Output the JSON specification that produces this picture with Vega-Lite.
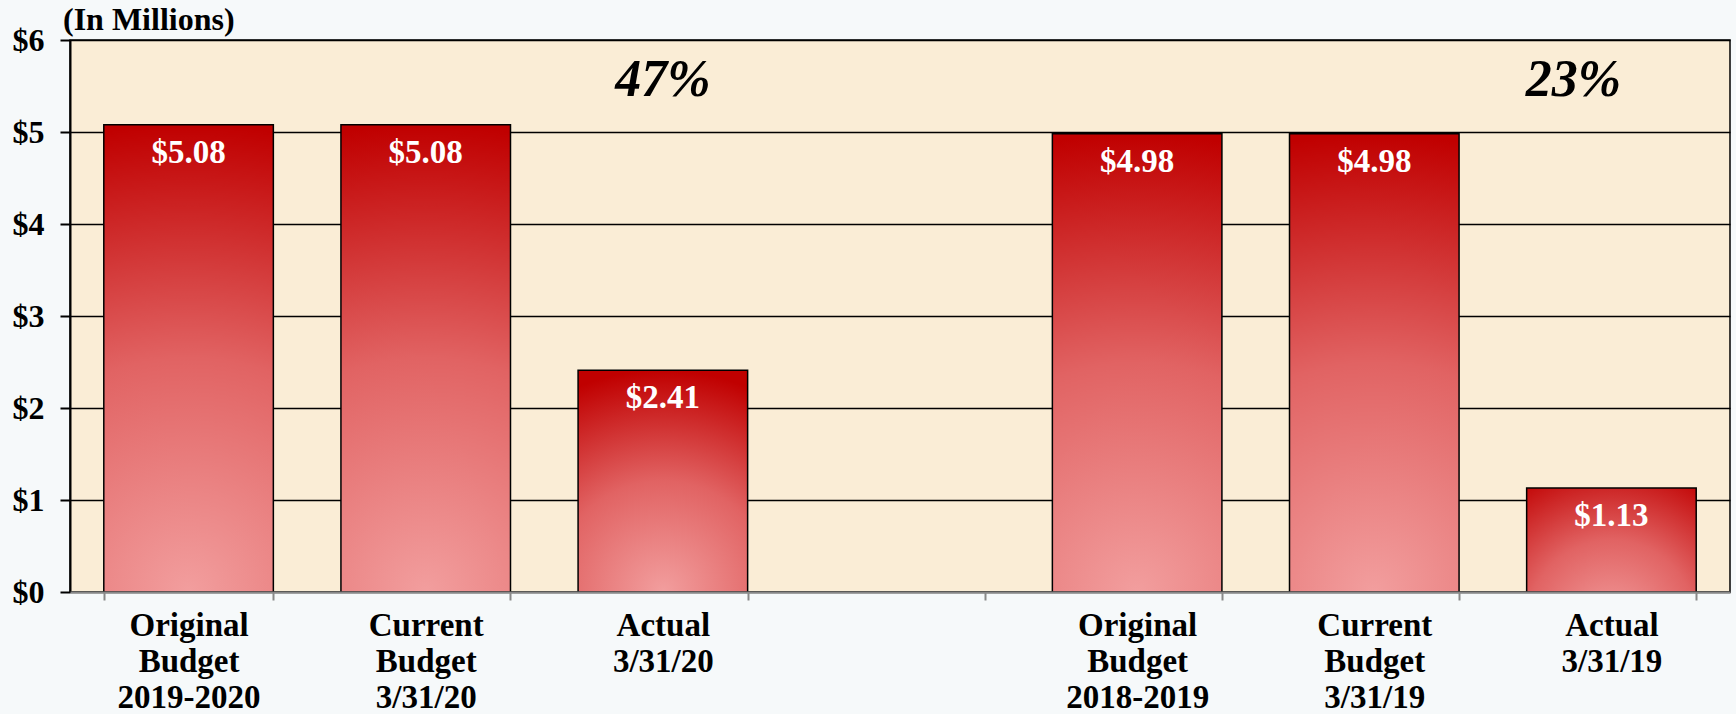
{
  "$schema": "https://vega.github.io/schema/vega-lite/v6.json",
  "width": 1660,
  "height": 552,
  "autosize": {"type": "none"},
  "padding": {"left": 70, "top": 40, "right": 6, "bottom": 122},
  "background": "#F6F9FA",
  "title": {
    "text": "(In Millions)",
    "anchor": "start",
    "frame": "group",
    "font": "Liberation Serif",
    "fontSize": 32,
    "fontWeight": "bold",
    "color": "#000000",
    "baseline": "alphabetic",
    "offset": 0,
    "dx": -7,
    "dy": 38
  },
  "config": {
    "view": {"fill": "#FAEDD6", "stroke": "#000000", "strokeWidth": 1.5},
    "font": "Liberation Serif"
  },
  "datasets": {
    "bars": [
      {"cat": "Original|Budget|2019-2020", "value": 5.08, "label": "$5.08"},
      {"cat": "Current|Budget|3/31/20", "value": 5.08, "label": "$5.08"},
      {"cat": "Actual|3/31/20", "value": 2.41, "label": "$2.41"},
      {"cat": "Original|Budget|2018-2019", "value": 4.98, "label": "$4.98"},
      {"cat": "Current|Budget|3/31/19", "value": 4.98, "label": "$4.98"},
      {"cat": "Actual|3/31/19", "value": 1.13, "label": "$1.13"}
    ],
    "pct1": [{"cat": "Actual|3/31/20", "y": 5.57, "text": "47%"}],
    "pct2": [{"cat": "Actual|3/31/19", "y": 5.57, "text": "23%"}]
  },
  "encoding": {
    "x": {
      "field": "cat",
      "type": "nominal",
      "sort": null,
      "scale": {
        "domain": ["Original|Budget|2019-2020", "Current|Budget|3/31/20", "Actual|3/31/20", " ", "Original|Budget|2018-2019", "Current|Budget|3/31/19", "Actual|3/31/19"],
        "paddingInner": 0.285,
        "paddingOuter": 0.1425
      },
      "axis": {
        "title": null,
        "labelAngle": 0,
        "labelExpr": "datum.value ? split(datum.value, '|') : ''",
        "labelFont": "Liberation Serif",
        "labelFontSize": 33,
        "labelFontWeight": "bold",
        "labelColor": "#000000",
        "labelLineHeight": 36,
        "labelPadding": 9,
        "labelBaseline": "top",
        "tickBand": "extent",
        "tickSize": 8,
        "tickColor": "#888888",
        "tickWidth": 2,
        "domainColor": "#888888",
        "domainWidth": 2,
        "grid": false,
        "zindex": 1
      }
    }
  },
  "layer": [
    {
      "data": {"name": "bars"},
      "mark": {
        "type": "bar",
        "stroke": "#000000",
        "strokeWidth": 1.5,
        "color": {
          "gradient": "radial",
          "x1": 0.5, "y1": 1, "r1": 0,
          "x2": 0.5, "y2": 1, "r2": 1,
          "stops": [
            {"offset": 0, "color": "#F29E9E"},
            {"offset": 0.5, "color": "#E16363"},
            {"offset": 1, "color": "#C00000"}
          ]
        }
      },
      "encoding": {
        "y": {
          "field": "value",
          "type": "quantitative",
          "scale": {"domain": [0, 6], "nice": false},
          "axis": {
            "title": null,
            "values": [0, 1, 2, 3, 4, 5, 6],
            "labelExpr": "'$' + datum.value",
            "labelFont": "Liberation Serif",
            "labelFontSize": 32,
            "labelFontWeight": "bold",
            "labelColor": "#000000",
            "labelPadding": 16,
            "tickSize": 10,
            "tickColor": "#000000",
            "tickWidth": 2,
            "domainColor": "#000000",
            "domainWidth": 2,
            "grid": true,
            "gridColor": "#000000",
            "gridWidth": 1.5,
            "gridOpacity": 1
          }
        }
      }
    },
    {
      "data": {"name": "bars"},
      "mark": {
        "type": "text",
        "baseline": "middle",
        "dy": 28,
        "font": "Liberation Serif",
        "fontSize": 33,
        "fontWeight": "bold",
        "color": "#FFFFFF"
      },
      "encoding": {
        "y": {"field": "value", "type": "quantitative"},
        "text": {"field": "label"}
      }
    },
    {
      "data": {"name": "pct1"},
      "mark": {
        "type": "text",
        "baseline": "middle",
        "font": "Liberation Serif",
        "fontSize": 52,
        "fontWeight": "bold",
        "fontStyle": "italic",
        "color": "#000000"
      },
      "encoding": {
        "y": {"field": "y", "type": "quantitative"},
        "text": {"field": "text"}
      }
    },
    {
      "data": {"name": "pct2"},
      "mark": {
        "type": "text",
        "baseline": "middle",
        "dx": -38,
        "font": "Liberation Serif",
        "fontSize": 52,
        "fontWeight": "bold",
        "fontStyle": "italic",
        "color": "#000000"
      },
      "encoding": {
        "y": {"field": "y", "type": "quantitative"},
        "text": {"field": "text"}
      }
    }
  ]
}
